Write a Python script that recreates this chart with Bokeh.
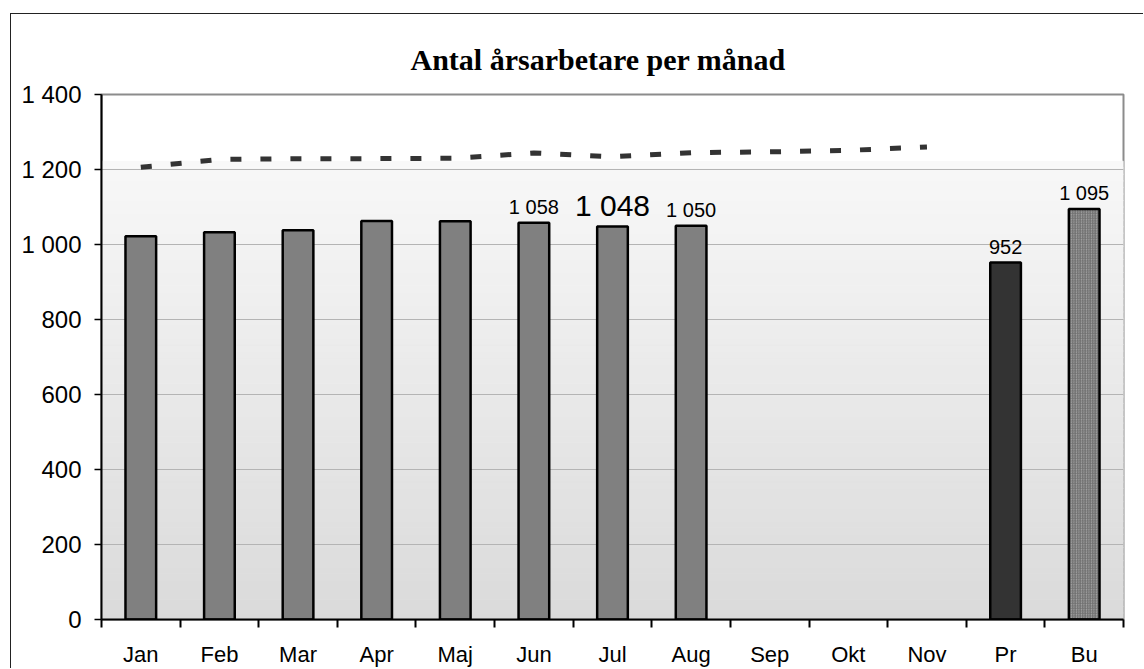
import numpy as np
from bokeh.plotting import figure
from bokeh.models import Range1d, FixedTicker, ColumnDataSource
from bokeh.core.properties import value
from bokeh.embed import file_html
from bokeh.resources import INLINE

# ---- data ----
categories = ["Jan", "Feb", "Mar", "Apr", "Maj", "Jun", "Jul", "Aug", "Sep", "Okt", "Nov", "Pr", "Bu"]
month_values = [1022, 1033, 1038, 1063, 1062, 1058, 1048, 1050]          # Jan..Aug (bars)
line_values = [1206, 1227, 1229, 1229, 1230, 1244, 1234, 1245, 1247, 1251, 1260]  # Jan..Nov (dashed)
pr_value = 952
bu_value = 1095
y_ticks = [0, 200, 400, 600, 800, 1000, 1200, 1400]
y_tick_labels = ["0", "200", "400", "600", "800", "1 000", "1 200", "1 400"]
labelled_small = ["Jun", "Aug", "Pr", "Bu"]
labelled_big = ["Jul"]
title_text = "Antal årsarbetare per månad"

def fmt(v):
    return f"{v:,}".replace(",", " ")

n_cat = len(categories)
centers = [i + 0.5 for i in range(n_cat)]
pos = dict(zip(categories, centers))

p = figure(width=1133, height=655,
           x_range=Range1d(0, n_cat), y_range=Range1d(0, 1400),
           output_backend="svg", toolbar_location=None,
           min_border_left=90, min_border_right=21,
           min_border_top=80, min_border_bottom=49)
p.margin = (13, 0, 0, 10)
p.styles = {"border-top": "1px solid #222222", "border-left": "1px solid #222222"}

# title
p.title.text = title_text
p.title.align = "left"
p.title.offset = 309
p.title.standoff = 37
p.title.text_font = "Liberation Serif"
p.title.text_font_size = "30px"
p.title.text_font_style = "bold"
p.title.text_color = "black"

p.background_fill_color = "white"
p.border_fill_color = "white"
p.outline_line_color = "#8c8c8c"
p.outline_line_width = 2

# gradient background bands
n_b = 70
edges = np.linspace(0, 1222, n_b + 1)
c0 = np.array([0xda, 0xda, 0xda])
c1 = np.array([0xf8, 0xf8, 0xf8])
cols = []
for i in range(n_b):
    t = (i + 0.5) / n_b
    c = (c0 * (1 - t) + c1 * t).round().astype(int)
    cols.append("#%02x%02x%02x" % tuple(c))
p.quad(left=0, right=n_cat, bottom=edges[:-1], top=edges[1:],
       fill_color=cols, line_color=cols, line_width=1, level="image")

# grid
p.xgrid.visible = False
p.ygrid.ticker = FixedTicker(ticks=y_ticks[1:-1])
p.ygrid.grid_line_color = "#b4b4b4"
p.ygrid.grid_line_width = 1

# bars: months
mx = [pos[c] for c in categories[:len(month_values)]]
p.vbar(x=mx, top=month_values, bottom=0, width=0.39,
       fill_color="#808080", line_color="black", line_width=2.5)
# Pr
p.vbar(x=[pos["Pr"]], top=[pr_value], bottom=0, width=0.39,
       fill_color="#333333", line_color="black", line_width=2.5)
# Bu (hatched)
p.vbar(x=[pos["Bu"]], top=[bu_value], bottom=0, width=0.39,
       fill_color="#a4a4a4", hatch_pattern="right_diagonal_line",
       hatch_color="#6e6e6e", hatch_scale=2.5, hatch_weight=1,
       line_color="black", line_width=2.5)

# dashed line
lx = [pos[c] for c in categories[:len(line_values)]]
p.line(x=lx, y=line_values, line_color="#333333", line_width=5,
       line_dash="11 19", line_cap="butt")

# value labels
all_vals = dict(zip(categories[:len(month_values)], month_values))
all_vals["Pr"] = pr_value
all_vals["Bu"] = bu_value
src_small = ColumnDataSource(dict(
    x=[pos[c] for c in labelled_small],
    y=[all_vals[c] for c in labelled_small],
    t=[fmt(all_vals[c]) for c in labelled_small]))
p.text(x="x", y="y", text="t", source=src_small, text_align="center",
       text_baseline="alphabetic", y_offset=-16,
       text_font=value("Liberation Sans"), text_font_size="20px", text_color="black")
src_big = ColumnDataSource(dict(
    x=[pos[c] for c in labelled_big],
    y=[all_vals[c] for c in labelled_big],
    t=[fmt(all_vals[c]) for c in labelled_big]))
p.text(x="x", y="y", text="t", source=src_big, text_align="center",
       text_baseline="alphabetic", y_offset=-21,
       text_font=value("Liberation Sans"), text_font_size="30px", text_color="black")

# y axis
ya = p.yaxis[0]
ya.ticker = FixedTicker(ticks=y_ticks)
ya.major_label_overrides = {t: l for t, l in zip(y_ticks, y_tick_labels)}
ya.axis_line_color = "black"
ya.axis_line_width = 2
ya.major_tick_out = 7
ya.major_tick_in = 0
ya.major_tick_line_color = "black"
ya.major_tick_line_width = 1.5
ya.minor_tick_line_color = None
ya.major_label_text_font = "Liberation Sans"
ya.major_label_text_font_size = "24px"
ya.major_label_text_color = "black"
ya.major_label_standoff = 13

# x axis
xa = p.xaxis[0]
xa.ticker = FixedTicker(ticks=centers, minor_ticks=list(range(n_cat + 1)))
xa.major_label_overrides = {c: l for c, l in zip(centers, categories)}
xa.axis_line_color = "black"
xa.axis_line_width = 2
xa.major_tick_out = 0
xa.major_tick_in = 0
xa.minor_tick_out = 8
xa.minor_tick_in = 0
xa.minor_tick_line_color = "black"
xa.minor_tick_line_width = 2
xa.major_label_text_font = "Liberation Sans"
xa.major_label_text_font_size = "22px"
xa.major_label_text_color = "black"
xa.major_label_standoff = 14

open("out.html", "w").write(file_html(p, INLINE))
